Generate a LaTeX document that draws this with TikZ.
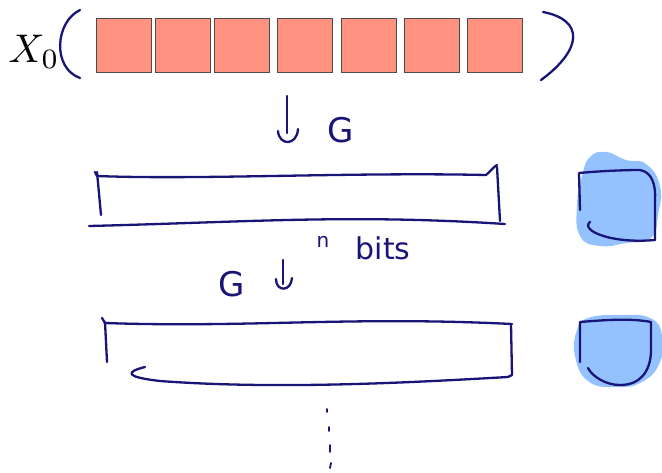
\documentclass[tikz,border=0pt]{standalone}
\usepackage{fontspec}
\newfontfamily\handfont{DejaVu Sans}
\begin{document}
\begin{tikzpicture}[x=1pt,y=-1pt,
  ink/.style={draw=inkblue,line width=2.3pt,line cap=round,line join=round},
  cell/.style={draw=black!70,fill=salmon,line width=0.8pt,minimum width=55pt,minimum height=54pt,inner sep=0pt,anchor=north west},
  blob/.style={fill=skyblob,draw=none},
  scrawl/.style={text=inkblue,font=\handfont\fontsize{34}{34}\selectfont,inner sep=0pt}]
\definecolor{inkblue}{RGB}{24,20,120}
\definecolor{salmon}{RGB}{255,146,128}
\definecolor{skyblob}{RGB}{148,194,255}
\useasboundingbox (0,0) rectangle (662,472);

% input vector X_0 with its seven cells
\node[inner sep=0pt,scale=4] (x0) at (34,52) {$X_0$};
\foreach \i/\x in {1/96,2/155,3/214,4/277,5/341,6/404,7/467}
  \node[cell] (c\i) at (\x,18) {};
\draw[ink] (80,10) .. controls (55,22) and (52,68) .. (80,78);
\draw[ink] (543,12) .. controls (585,20) and (582,50) .. (541,80);

% first step: arrow and G
\coordinate (a1t) at (287,96);
\coordinate (a1b) at (287,133);
\draw[ink] (a1t) -- (a1b);
\draw[ink] (278,131) .. controls (279,146) and (297,146) .. (298,129);
\node[scrawl] (g1) at (341,130) {G};

% first register
\draw[ink] (95,172) -- (97,176) .. controls (200,180) and (350,172) .. (486,175) .. controls (490,172) and (492,168) .. (497,165);
\draw[ink] (97,172) -- (101,215);
\draw[ink] (497,167) -- (500,221);
\draw[ink] (89,226) .. controls (250,222) and (350,214) .. (505,224);
\node[scrawl,font=\handfont\fontsize{20}{20}\selectfont] (nn) at (323,242) {n};
\node[scrawl,font=\handfont\fontsize{30}{30}\selectfont] (bits) at (383,248) {bits};

% first output bit
\path[blob] plot[smooth cycle,tension=0.8] coordinates {(590,157) (606,152) (626,160) (646,164) (660,186) (658,215) (651,238) (626,243) (600,246) (580,236) (577,205) (582,176)};
\draw[ink] (580,210) -- (579,173) .. controls (600,171) and (625,170) .. (640,170) .. controls (652,172) and (656,185) .. (655,200) -- (655,240);
\draw[ink] (590,222) .. controls (580,230) and (610,244) .. (655,240);

% second step: G and arrow
\node[scrawl] (g2) at (232,284) {G};
\draw[ink] (283,260) -- (283,284);
\draw[ink] (276,279) .. controls (276,292) and (291,292) .. (292,278);

% second register
\draw[ink] (102,318) -- (105,323) .. controls (250,328) and (350,316) .. (512,324);
\draw[ink] (105,322) -- (107,362);
\draw[ink] (511,324) -- (512,375) -- (508,377);
\draw[ink] (145,367) .. controls (125,372) and (125,377) .. (160,381) .. controls (280,390) and (420,382) .. (508,377);

% second output bit
\path[blob] plot[smooth cycle,tension=0.8] coordinates {(588,318) (620,315) (650,318) (662,335) (660,362) (642,382) (615,387) (588,381) (575,356) (577,330)};
\draw[ink] (580,362) -- (580,322) .. controls (605,320) and (630,318) .. (651,322) -- (651,352) .. controls (650,372) and (640,385) .. (620,385) .. controls (605,385) and (592,376) .. (588,368);

% continuation dots
\draw[ink,line width=1.8pt] (327,409) -- (327,412);
\draw[ink,line width=1.8pt] (329,427) -- (329,431);
\draw[ink,line width=1.8pt] (330,445) -- (330,452);
\draw[ink,line width=1.8pt] (331,463) -- (330,468);
\end{tikzpicture}
\end{document}
